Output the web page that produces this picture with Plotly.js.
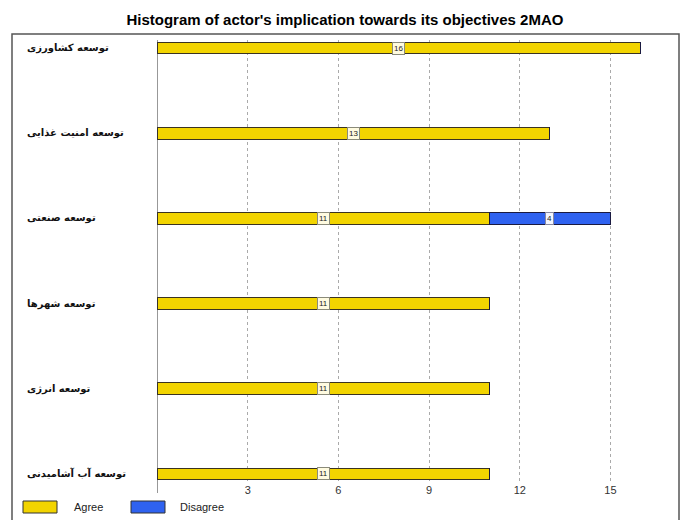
<!DOCTYPE html>
<html>
<head>
<meta charset="utf-8">
<script src="https://cdn.plot.ly/plotly-3.0.1.min.js"></script>
<style>html,body{margin:0;padding:0;background:#fff;}#chart{width:683px;height:520px;}</style>
</head>
<body>
<div id="chart"></div>
<script>
var categories = ["توسعه کشاورزی", "توسعه امنیت غذایی", "توسعه صنعتی", "توسعه شهرها", "توسعه انرژی", "توسعه آب آشامیدنی"];
var agreeValues = [16, 13, 11, 11, 11, 11];
var disagreeValues = [0, 0, 4, 0, 0, 0];
var seriesNames = ["Agree", "Disagree"];
var seriesColors = ["#f2d400", "#2f62f0"];
var xTickValues = [3, 6, 9, 12, 15];
var chartTitle = "Histogram of actor's implication towards its objectives 2MAO";

var W = 683, H = 520;
var L = 157, R = 8, T = 40, B = 38;
var pw = W - L - R, ph = H - T - B;
function px(x) { return (x - L) / pw; }
function py(y) { return (H - B - y) / ph; }

var traces = [
  {type: 'bar', orientation: 'h', name: seriesNames[0], y: categories, x: agreeValues,
   width: 0.14, marker: {color: seriesColors[0], line: {color: '#3a3320', width: 1}}, hoverinfo: 'x+y'},
  {type: 'bar', orientation: 'h', name: seriesNames[1], y: categories, x: disagreeValues,
   width: 0.14, marker: {color: seriesColors[1], line: {color: '#1a1a40', width: 1}}, hoverinfo: 'x+y'}
];

var annotations = [];
categories.forEach(function (c, i) {
  annotations.push({xref: 'paper', yref: 'y', x: px(25), y: c, xanchor: 'left', yanchor: 'middle',
    text: c, showarrow: false, font: {family: 'DejaVu Sans', size: 10, color: '#111', weight: 'bold'}});
  if (agreeValues[i] > 0) {
    annotations.push({xref: 'x', yref: 'y', x: agreeValues[i] / 2, y: c, text: String(agreeValues[i]),
      showarrow: false, bgcolor: '#fffbe0', bordercolor: '#8a8a7a', borderwidth: 1, borderpad: 1,
      font: {family: 'Liberation Sans', size: 8, color: '#222'}});
  }
  if (disagreeValues[i] > 0) {
    annotations.push({xref: 'x', yref: 'y', x: agreeValues[i] + disagreeValues[i] / 2, y: c, text: String(disagreeValues[i]),
      showarrow: false, bgcolor: '#f4f6ff', bordercolor: '#8a8aa0', borderwidth: 1, borderpad: 1,
      font: {family: 'Liberation Sans', size: 8, color: '#222'}});
  }
});
// legend texts
annotations.push({xref: 'paper', yref: 'paper', x: px(72), y: py(507), xanchor: 'left', yanchor: 'middle',
  text: seriesNames[0], showarrow: false, font: {family: 'Liberation Sans', size: 11, color: '#222'}});
annotations.push({xref: 'paper', yref: 'paper', x: px(178), y: py(507), xanchor: 'left', yanchor: 'middle',
  text: seriesNames[1], showarrow: false, font: {family: 'Liberation Sans', size: 11, color: '#222'}});

var shapes = [
  // outer frame
  {type: 'rect', xref: 'paper', yref: 'paper', x0: px(12), x1: px(679), y0: py(530), y1: py(34),
   line: {color: '#555', width: 1.5}},
  // y axis line
  {type: 'line', xref: 'x', yref: 'paper', x0: 0, x1: 0, y0: py(493), y1: py(40),
   line: {color: '#333', width: 1}},
  // legend swatches
  {type: 'rect', xref: 'paper', yref: 'paper', x0: px(23), x1: px(57), y0: py(513), y1: py(501),
   fillcolor: seriesColors[0], line: {color: '#333', width: 1}},
  {type: 'rect', xref: 'paper', yref: 'paper', x0: px(131), x1: px(165), y0: py(513), y1: py(501),
   fillcolor: seriesColors[1], line: {color: '#333', width: 1}}
];

var layout = {
  width: W, height: H,
  margin: {l: L, r: R, t: T, b: B},
  paper_bgcolor: '#fff', plot_bgcolor: '#fff',
  barmode: 'stack',
  showlegend: false,
  title: {text: '<b>' + chartTitle + '</b>', x: 0.505, xref: 'container', y: 1 - 20 / H, yref: 'container',
    xanchor: 'center', yanchor: 'middle', font: {family: 'Liberation Sans', size: 15, color: '#000'}},
  xaxis: {range: [0, pw / 30.23], tickvals: xTickValues, showgrid: true, gridcolor: '#aaa', griddash: 'dot',
    gridwidth: 1, zeroline: false, showline: false, ticks: '',
    tickfont: {family: 'Liberation Sans', size: 11, color: '#333'}, fixedrange: true},
  yaxis: {type: 'category', categoryarray: categories, range: [5.094, -0.094], showticklabels: false,
    showgrid: false, zeroline: false, showline: false, ticks: '', fixedrange: true},
  shapes: shapes,
  annotations: annotations
};

Plotly.newPlot('chart', traces, layout, {displayModeBar: false, staticPlot: true});
</script>
</body>
</html>
